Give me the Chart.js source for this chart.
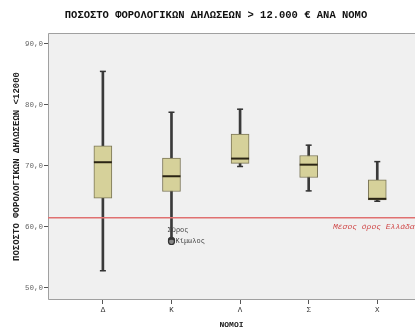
<!DOCTYPE html>
<html>
<head>
    <title>Ποσοστό φορολογικών δηλώσεων ανά νομό</title>
    <script src="https://cdn.jsdelivr.net/npm/chart.js@4.4.0/dist/chart.umd.min.js"></script>
    <style>
        body { margin: 0; background: #fff; }
        #wrap { width: 415px; height: 330px; }
    </style>
</head>
<body>
    <div id="wrap"><canvas id="box-chart"></canvas></div>

    <script>
        // values
        var nomoi = ['Δ', 'Κ', 'Λ', 'Σ', 'Χ'];
        var whiskerLow = [52.8, 58.0, 69.9, 65.9, 64.2];
        var quart1 = [64.7, 65.8, 70.4, 68.1, 64.4];
        var median = [70.6, 68.3, 71.2, 70.2, 64.6];
        var quart3 = [73.3, 71.3, 75.2, 71.7, 67.7];
        var whiskerHigh = [85.5, 78.8, 79.3, 73.4, 70.7];
        var outlierNomos = [1, 1];
        var outlierValue = [57.8, 57.6];
        var outlierName = ['Σύρος', 'Κίμωλος'];
        var greekMean = 61.5;
        var yTicks = [50, 60, 70, 80, 90];

        var mono = "'Liberation Mono', 'Courier New', monospace";
        var chartTitle = 'ΠΟΣΟΣΤΟ ΦΟΡΟΛΟΓΙΚΩΝ ΔΗΛΩΣΕΩΝ > 12.000 € ΑΝΑ ΝΟΜΟ';

        var boxPlugin = {
            id: 'boxExtras',
            beforeDatasetsDraw: function(chart) {
                var a = chart.chartArea, c = chart.ctx;
                c.save();
                c.fillStyle = '#f0f0f0';
                c.fillRect(a.left, a.top, chart.width - a.left, a.bottom - a.top);
                c.strokeStyle = '#a0a0a0';
                c.lineWidth = 1;
                c.beginPath();
                c.moveTo(chart.width, a.top + 0.5);
                c.lineTo(a.left + 0.5, a.top + 0.5);
                c.lineTo(a.left + 0.5, a.bottom - 0.5);
                c.lineTo(chart.width, a.bottom - 0.5);
                c.stroke();
                // title
                c.fillStyle = '#111';
                c.font = 'bold 10.5px ' + mono;
                c.textAlign = 'center';
                c.textBaseline = 'middle';
                c.fillText(chartTitle, 216, 15);
                c.restore();
            },
            afterDatasetsDraw: function(chart) {
                var c = chart.ctx, xs = chart.scales.x, ys = chart.scales.y, a = chart.chartArea;
                c.save();
                // caps
                c.strokeStyle = '#333';
                c.lineWidth = 1.5;
                nomoi.forEach(function(n, i) {
                    var px = xs.getPixelForValue(i);
                    [whiskerLow[i], whiskerHigh[i]].forEach(function(v) {
                        var py = ys.getPixelForValue(v);
                        c.beginPath();
                        c.moveTo(px - 3, py);
                        c.lineTo(px + 3, py);
                        c.stroke();
                    });
                });
                // medians
                c.strokeStyle = '#2a2414';
                c.lineWidth = 2;
                nomoi.forEach(function(n, i) {
                    var px = xs.getPixelForValue(i);
                    var py = ys.getPixelForValue(median[i]);
                    c.beginPath();
                    c.moveTo(px - 9, py);
                    c.lineTo(px + 9, py);
                    c.stroke();
                });
                // outlier labels
                c.fillStyle = '#444';
                c.font = '7px ' + mono;
                c.textBaseline = 'middle';
                outlierName.forEach(function(name, k) {
                    var px = xs.getPixelForValue(outlierNomos[k]);
                    var py = ys.getPixelForValue(outlierValue[k]);
                    if (k === 0) c.fillText(name, px - 4, py - 10);
                    else c.fillText(name, px + 4, py);
                });
                // greek mean line
                var my = ys.getPixelForValue(greekMean);
                c.strokeStyle = '#e07070';
                c.lineWidth = 1.5;
                c.beginPath();
                c.moveTo(a.left, my);
                c.lineTo(chart.width, my);
                c.stroke();
                c.fillStyle = '#d04848';
                c.font = 'italic 8px ' + mono;
                c.fillText('Μέσος όρος Ελλάδας', 333, my + 9);
                c.restore();
            }
        };

        var ctx = document.getElementById('box-chart').getContext('2d');
        var boxChart = new Chart(ctx, {
            type: 'bar',
            data: {
                datasets: [{
                    type: 'scatter',
                    order: 0,
                    data: outlierValue.map(function(v, k) { return {x: outlierNomos[k], y: v}; }),
                    pointRadius: 3,
                    pointBackgroundColor: '#888',
                    pointBorderColor: '#333',
                    pointBorderWidth: 1.2
                }, {
                    order: 1,
                    data: nomoi.map(function(n, i) { return {x: i, y: [quart1[i], quart3[i]]}; }),
                    backgroundColor: '#d6d19a',
                    borderColor: '#7a7556',
                    borderWidth: 1,
                    borderSkipped: false,
                    barThickness: 18,
                    grouped: false
                }, {
                    order: 2,
                    data: nomoi.map(function(n, i) { return {x: i, y: [whiskerLow[i], whiskerHigh[i]]}; }),
                    backgroundColor: '#3a3a3a',
                    barThickness: 2,
                    grouped: false
                }]
            },
            options: {
                responsive: true,
                maintainAspectRatio: false,
                animation: false,
                layout: { autoPadding: false, padding: { top: 33, left: 0, right: 0, bottom: 0 } },
                scales: {
                    x: {
                        type: 'linear',
                        offset: false,
                        min: -0.8,
                        max: 4.55,
                        afterBuildTicks: function(scale) {
                            scale.ticks = nomoi.map(function(n, i) { return {value: i}; });
                        },
                        afterFit: function(scale) {
                            scale.height = 30;
                            scale.paddingRight = 0;
                            scale.paddingLeft = 0;
                        },
                        ticks: {
                            padding: 2,
                            color: '#333',
                            font: { family: mono, size: 7.5 },
                            callback: function(value) { return nomoi[value]; }
                        },
                        grid: { offset: false, drawOnChartArea: false, drawTicks: true, tickLength: 4, color: '#555' },
                        border: { display: false },
                        title: {
                            display: true,
                            text: 'ΝΟΜΟΙ',
                            color: '#222',
                            font: { family: mono, size: 8, weight: 'bold' },
                            padding: { top: 0, bottom: 0 }
                        }
                    },
                    y: {
                        min: 48,
                        max: 91.8,
                        afterBuildTicks: function(scale) {
                            scale.ticks = yTicks.map(function(v) { return {value: v}; });
                        },
                        afterFit: function(scale) {
                            scale.width = 48;
                            scale.paddingTop = 0;
                            scale.paddingBottom = 0;
                        },
                        ticks: {
                            padding: 1,
                            color: '#666',
                            font: { family: mono, size: 7.5 },
                            callback: function(value) { return value.toFixed(1).replace('.', ','); }
                        },
                        grid: { drawOnChartArea: false, drawTicks: true, tickLength: 4, color: '#555' },
                        border: { display: false },
                        title: {
                            display: true,
                            text: 'ΠΟΣΟΣΤΟ ΦΟΡΟΛΟΓΙΚΩΝ ΔΗΛΩΣΕΩΝ <12000',
                            color: '#222',
                            font: { family: mono, size: 9, weight: 'bold' },
                            padding: { top: 11, bottom: 0 }
                        }
                    }
                },
                plugins: {
                    legend: { display: false },
                    tooltip: { enabled: false },
                    title: { display: false }
                }
            },
            plugins: [boxPlugin]
        });
    </script>
</body>
</html>
